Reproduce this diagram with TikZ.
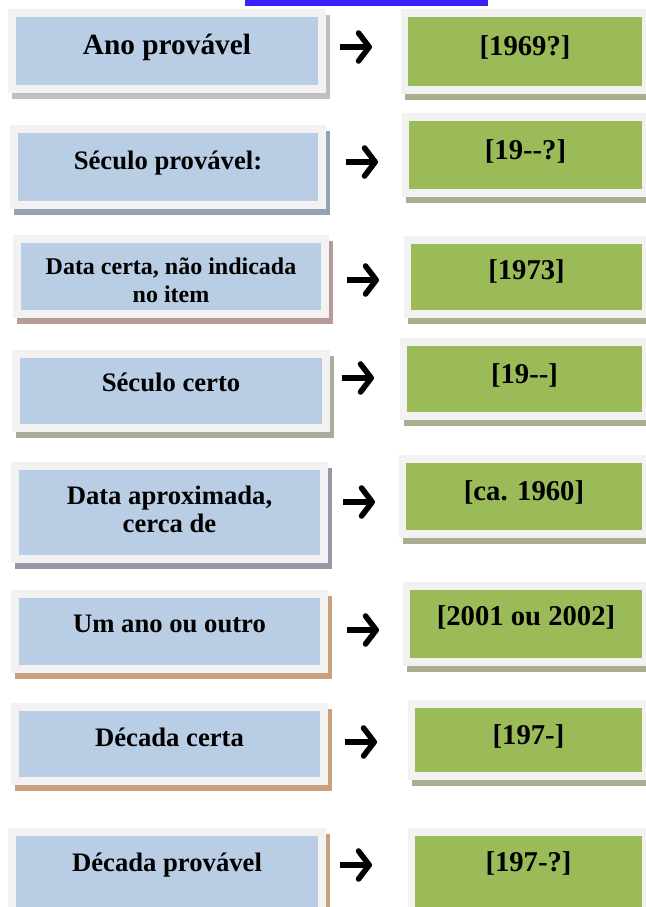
\documentclass[tikz,border=0pt]{standalone}
\usepackage{fontspec}
\setmainfont{Liberation Serif}
\usetikzlibrary{arrows.meta}

\definecolor{framegray}{HTML}{F2F2F2}
\definecolor{itemblue}{HTML}{B9CDE5}
\definecolor{datagreen}{HTML}{9BBB59}
\definecolor{greenshadow}{HTML}{A9AE8F}
\definecolor{shgray}{HTML}{BFBFBF}
\definecolor{shblue}{HTML}{95A3B3}
\definecolor{shrose}{HTML}{B89A9A}
\definecolor{sholive}{HTML}{A9AE9A}
\definecolor{shlilac}{HTML}{9E94A8}
\definecolor{shtan}{HTML}{C9A07E}
\definecolor{linkblue}{HTML}{3A22FF}

\begin{document}
\begin{tikzpicture}[x=0.75pt, y=-0.75pt,
		itemtext/.style={font=\bfseries, align=center, anchor=base, inner sep=0pt},
		bigarrow/.style={line width=4.2pt, -{Straight Barb[length=8pt,width=21pt,round]}}]
		\useasboundingbox (0,0) rectangle (646,907);
		\clip (0,0) rectangle (646,907);
		
		% underline of the cut link at the top
		\fill[linkblue] (245,0) rectangle (488,6);
		
		\foreach \n/\lx/\ly/\lxx/\lyy/\sh/\rx/\ry/\ryy/\ax/\ay/\fs/\lt/\lb/\rt/\rb in {
			1/8/9/326/93/shgray/401/9/94/340/47/22/{Ano provável}/54/{[1969?]}/55,
			2/10/125/326/209/shblue/402/113/197/346/162/20/{Século provável:}/169/{[19-{}-?]}/159,
			3/13/235/329/318/shrose/404/236/318/347/280/18/{Data certa, não indicada\\no item}/302/{[1973]}/279,
			4/12/350/330/432/sholive/400/338/420/342/378/20/{Século certo}/391/{[19-{}-]}/383,
			5/11/462/328/563/shlilac/399/455/538/343/502/20/{Data aproximada,\\cerca de}/532/{[ca. 1960]}/500,
			6/11/590/328/673/shtan/403/582/666/347/630/20/{Um ano ou outro}/632/{[2001 ou 2002]}/625,
			7/11/703/328/785/shtan/408/700/780/345/742/20/{Década certa}/746/{[197-]}/744,
			8/8/828/326/915/shtan/408/828/915/340/865/20/{Década provável}/871/{[197-?]}/871}
		{
			% left box: shadow, frame, blue field
			\fill[\sh] (\lx+4,\ly+6) rectangle (\lxx+4,\lyy+6);
			\fill[framegray] (\lx,\ly) rectangle (\lxx,\lyy);
			\fill[itemblue] (\lx+8,\ly+8) rectangle (\lxx-8,\lyy-8);
			\node[itemtext, font=\bfseries\fontsize{\fs}{21}\selectfont] (item\n) at ({(\lx+\lxx)/2},\lb) {\lt};
			
			% right box: shadow, frame, green field
			\fill[greenshadow] (\rx+4,\ry+6) rectangle (660,\ryy+6);
			\fill[framegray] (\rx,\ry) rectangle (656,\ryy);
			\fill[datagreen] (\rx+7,\ry+8) rectangle (642,\ryy-8);
			\node[itemtext, font=\bfseries\fontsize{21.5}{24}\selectfont] (date\n) at ({(\rx+649)/2},\rb) {\rt};
			
			\coordinate (from\n) at (\ax,\ay);
			\coordinate (to\n) at (\ax+32,\ay);
			\draw[bigarrow] (from\n) -- (to\n);
		}
	\end{tikzpicture}
\end{document}
